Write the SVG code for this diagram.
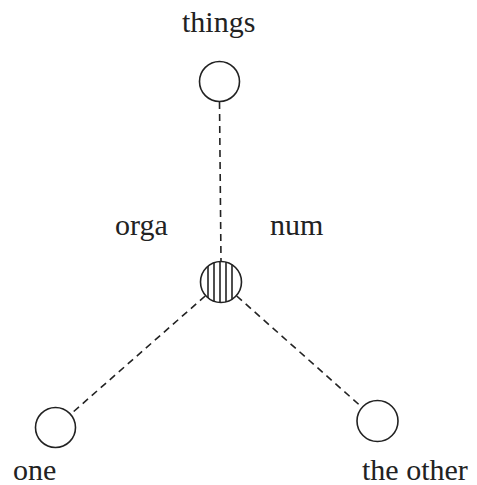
<svg xmlns="http://www.w3.org/2000/svg" width="477" height="485" viewBox="0 0 477 485">
<style>
.node{fill:#fff;stroke:#222;stroke-width:1.6}
.lbl{font-family:"Liberation Serif","Times New Roman",serif;font-size:30px;fill:#222}
.edge{stroke:#222;stroke-width:1.6;stroke-dasharray:7,5;fill:none}
.hatch{stroke:#222;stroke-width:1.6}
</style>
<defs>
<clipPath id="cc"><circle cx="221" cy="282" r="20.5"/></clipPath>
</defs>
<rect width="477" height="485" fill="#fff"/>
<g id="connectors">
<line class="edge" x1="219.5" y1="102" x2="221" y2="261.5"/>
<line class="edge" x1="205.2" y1="296" x2="70.5" y2="414.3"/>
<line class="edge" x1="236.7" y1="296" x2="362.5" y2="407.7"/>
</g>
<g id="things">
<circle class="node" cx="219.5" cy="81.5" r="20"/>
<text class="lbl" x="182" y="32">things</text>
</g>
<g id="center">
<circle class="node" cx="221" cy="282" r="20.5"/>
<g clip-path="url(#cc)">
<line class="hatch" x1="208" y1="260" x2="208" y2="304"/>
<line class="hatch" x1="214" y1="260" x2="214" y2="304"/>
<line class="hatch" x1="220" y1="260" x2="220" y2="304"/>
<line class="hatch" x1="226" y1="260" x2="226" y2="304"/>
<line class="hatch" x1="232" y1="260" x2="232" y2="304"/>
</g>
<text class="lbl" x="115" y="235">orga</text>
<text class="lbl" x="270" y="235">num</text>
</g>
<g id="one">
<circle class="node" cx="55.5" cy="427.5" r="20"/>
<text class="lbl" x="13" y="480">one</text>
</g>
<g id="the-other">
<circle class="node" cx="377.5" cy="421" r="20.5"/>
<text class="lbl" x="362" y="480">the other</text>
</g>
</svg>
